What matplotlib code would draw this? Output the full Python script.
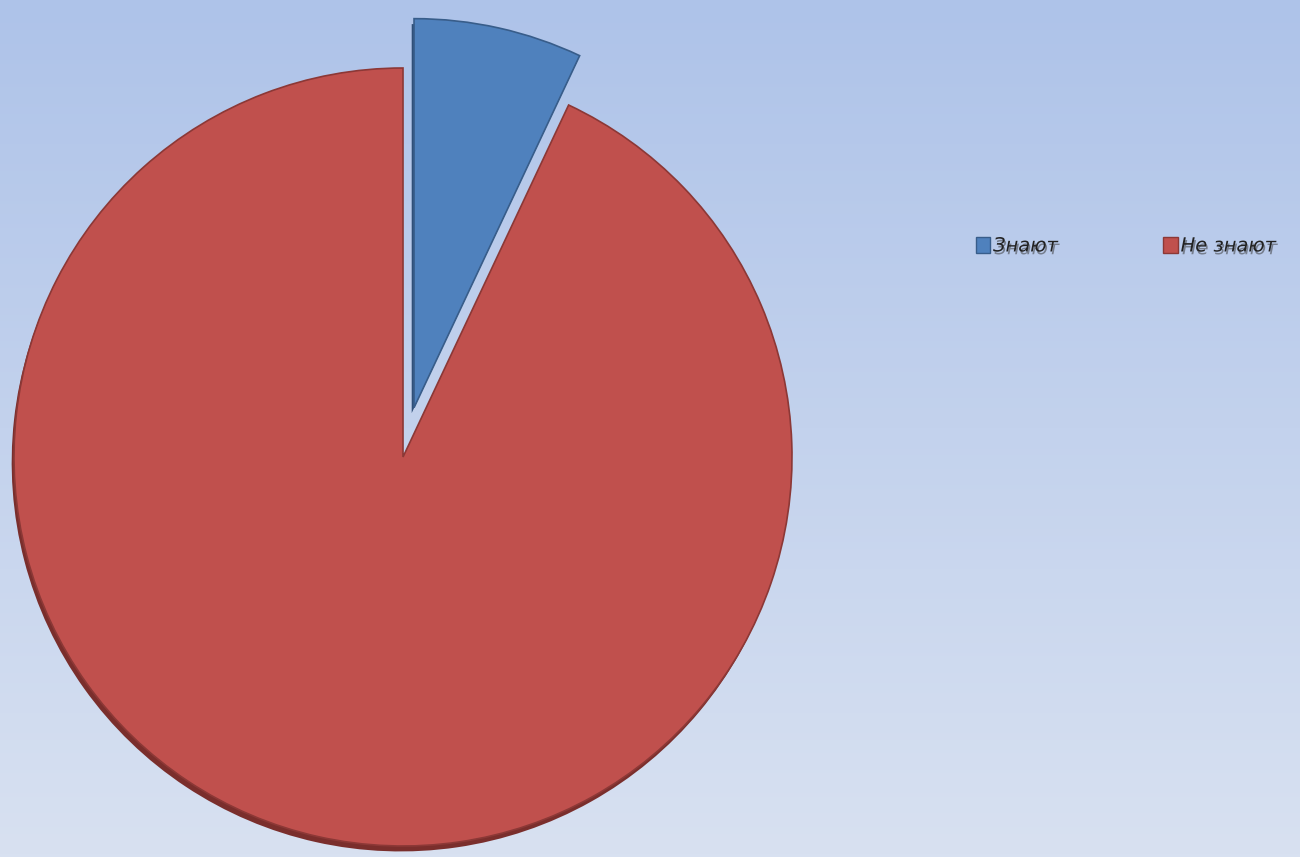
import matplotlib
matplotlib.use('Agg')
import matplotlib.pyplot as plt
import matplotlib.patches as patches
import matplotlib.patheffects as pe
import numpy as np

labels = ["Знают", "Не знают"]
values = [7, 93]
colors = ["#4F81BD", "#C0504D"]
edge_colors = ["#385D8A", "#8C3836"]
explode = [0.13, 0.0]

W, H = 1300, 857
fig = plt.figure(figsize=(W / 100, H / 100), dpi=100)

# background gradient
bg = fig.add_axes([0, 0, 1, 1])
grad = np.linspace(0, 1, 256).reshape(-1, 1)
top = np.array([174, 195, 233]) / 255
bottom = np.array([216, 225, 241]) / 255
img = top + (bottom - top) * grad[:, :, None]
bg.imshow(img, aspect="auto", extent=[0, 1, 0, 1])
bg.axis("off")

# pie: centre at (403, 457) px, radius 389 px
cx, cy, r = 403, 457, 389
ax = fig.add_axes([0, 0, 0.62, 1])

# shadow / depth
ax.pie(values, colors=["#2F4F78", "#7A2E2C"], explode=explode, startangle=90,
       counterclock=False, center=(-0.006, -0.014),
       wedgeprops=dict(linewidth=0, clip_on=False))
wedges, _ = ax.pie(values, colors=colors, explode=explode, startangle=90,
                   counterclock=False,
                   wedgeprops=dict(linewidth=1.2, clip_on=False))
for w, ec in zip(wedges, edge_colors):
    w.set_edgecolor(ec)

ax.set_aspect("auto")
ax.set_xlim(-cx / r, (0.62 * W - cx) / r)
ax.set_ylim(-(H - cy) / r, cy / r)
ax.axis("off")

handles = [patches.Patch(facecolor=c, edgecolor=ec, label=l)
           for c, ec, l in zip(colors, edge_colors, labels)]
leg = fig.legend(handles=handles, loc="center left", bbox_to_anchor=(0.737, 0.713),
                 ncol=2, frameon=False, handlelength=0.75, handleheight=0.9,
                 handletextpad=0.15, columnspacing=5.4,
                 prop=dict(size=14, style="italic"))
for t in leg.get_texts():
    t.set_color("#222222")
    t.set_path_effects([pe.withSimplePatchShadow(offset=(1, -2), shadow_rgbFace="#333333", alpha=0.5)])

fig.savefig("out.png", dpi=100)
